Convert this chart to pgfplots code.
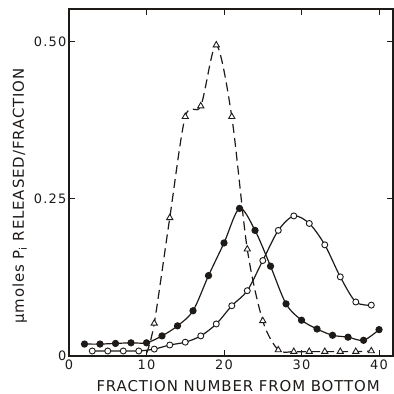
\documentclass[border=0pt]{standalone}
\usepackage{fontspec}
\setmainfont{DejaVu Sans}
\usepackage{pgfplots}
\pgfplotsset{compat=1.18}
\definecolor{ink}{HTML}{1E1A18}
\begin{document}
\begin{tikzpicture}
\begin{axis}[
  at={(0,0)}, anchor=south west, scale only axis,
  width=324bp, height=347bp,
  xmin=0, xmax=41.8, ymin=0, ymax=0.5525,
  xtick={0,10,20,30,40}, xticklabels={0,10,20,30,40},
  ytick={0,0.25,0.5}, yticklabels={0,0.25,0.50},
  tick align=inside, major tick length=6bp,
  axis line style={line width=1.1bp, ink},
  every tick/.style={line width=1bp, ink},
  ticklabel style={font=\fontsize{13}{15}\selectfont\addfontfeature{LetterSpace=10}, text=ink},
  yticklabel style={xshift=1bp},
  xlabel={FRACTION NUMBER FROM BOTTOM},
  xlabel style={at={(axis description cs:0.522,0)}, anchor=north, inner sep=0pt, yshift=-24bp, font=\fontsize{15}{17}\selectfont\addfontfeature{LetterSpace=6}, text=ink},
  ylabel={μmoles P\textsubscript{i} RELEASED/FRACTION},
  ylabel style={at={(axis description cs:-0.152,0.461)}, anchor=center, inner sep=0pt, font=\fontsize{15}{17}\selectfont\addfontfeature{LetterSpace=6}, text=ink},
]
% triangles (dashed)
\addplot[ink, line width=1.2bp, dash pattern=on 9bp off 5bp, smooth, tension=0.5,
  mark=triangle*, mark size=3.6bp, mark indices={2,...,17},
  mark options={solid, fill=white, draw=ink, line width=0.9bp}]
  coordinates {(10,0.004)(11,0.052)(13,0.220)(15,0.381)(17,0.398)(19,0.495)(21,0.381)(23,0.170)(25,0.056)(27,0.0096)(29,0.007)(31,0.007)(33,0.007)(35,0.007)(37,0.007)(39,0.008)};
% open circles
\addplot[ink, line width=1.2bp, smooth, tension=0.5,
  mark=*, mark size=3bp, mark options={fill=white, draw=ink, line width=0.9bp}]
  coordinates {(3,0.008)(5,0.008)(7,0.008)(9,0.008)(11,0.011)(13,0.0175)(15,0.022)(17,0.032)(19,0.051)(21,0.080)(23,0.104)(25,0.152)(27,0.200)(29,0.223)(31,0.211)(33,0.177)(35,0.126)(37,0.086)(39,0.081)};
% filled circles
\addplot[ink, line width=1.2bp, smooth, tension=0.5,
  mark=*, mark size=3bp, mark options={fill=ink, draw=ink}]
  coordinates {(2,0.019)(4,0.019)(6,0.020)(8,0.021)(10,0.021)(12,0.032)(14,0.048)(16,0.072)(18,0.128)(20,0.180)(22,0.235)(24,0.200)(26,0.143)(28,0.083)(30,0.057)(32,0.043)(34,0.033)(36,0.030)(38,0.025)(40,0.042)};
\end{axis}
\pgfresetboundingbox
\path[use as bounding box] (-69bp,-38bp) rectangle (325bp,356bp);
\end{tikzpicture}
\end{document}
